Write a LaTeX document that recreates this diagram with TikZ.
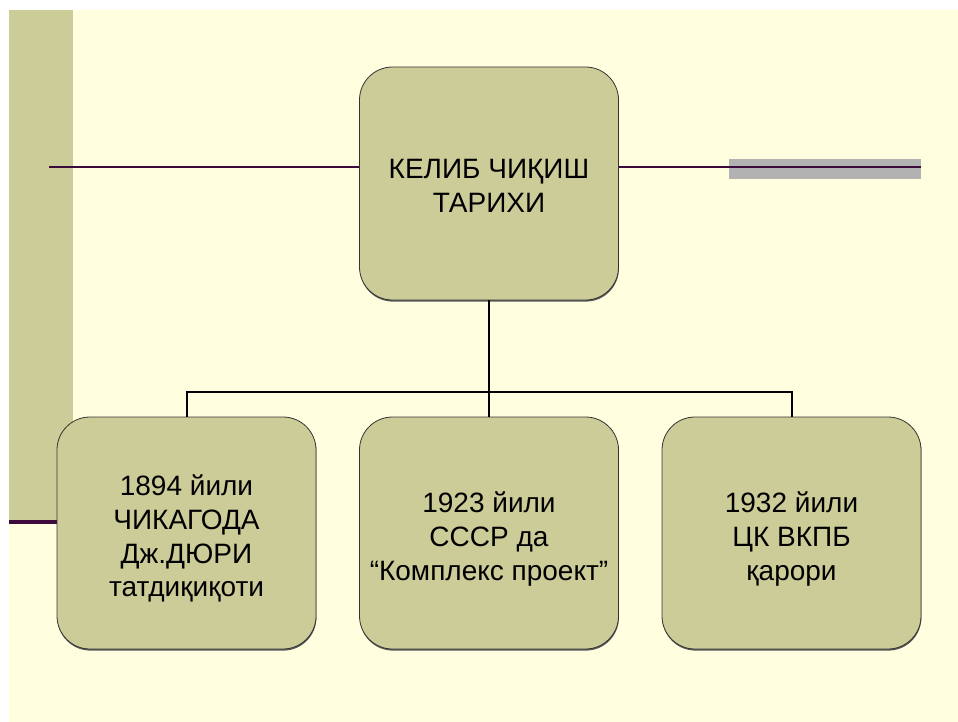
\documentclass[tikz,border=0pt]{standalone}
\usepackage{fontspec}
\setmainfont{Liberation Sans}
\usetikzlibrary{shadows}
\definecolor{cream}{HTML}{FFFFE0}
\definecolor{olive}{HTML}{CCCC99}
\definecolor{plum}{HTML}{3D0A3D}
\definecolor{bargray}{HTML}{B2B2B2}
\begin{document}
\begin{tikzpicture}[x=1pt,y=-1pt,
  box/.style={draw=black!80, line width=0.8pt, fill=olive, rounded corners=33pt,
    inner sep=0pt, minimum width=259pt, minimum height=232pt,
    drop shadow={shadow xshift=0.4pt, shadow yshift=-1.6pt, fill=black!65, opacity=1}},
  boxtext/.style={inner sep=0pt, align=center, font=\fontsize{28}{33.8}\selectfont},
  conn/.style={draw=black, line width=2pt},
  plumline/.style={draw=plum, line width=2pt}]
\useasboundingbox (0,0) rectangle (958,722);
\fill[white] (0,0) rectangle (958,722);
\fill[cream] (9,10) rectangle (958,722);
% left bar and decorations
\fill[olive] (9,10) rectangle (73,520);
\fill[bargray] (729,159) rectangle (921,179);
\coordinate (lineL) at (49,167);
\coordinate (lineR) at (921,167);
\coordinate (footL) at (9,522);
\coordinate (footR) at (80,522);
\draw[plumline] (lineL) -- (lineR);
\draw[draw=plum, line width=4pt] (footL) -- (footR);
% boxes
\node[box, minimum height=233pt] (top) at (489,183.5) {};
\node[box] (b1) at (186.5,533) {};
\node[box] (b2) at (489,533) {};
\node[box] (b3) at (791.5,533) {};
% texts
\node[boxtext] (topt) at ([yshift=-2pt]top.center) {КЕЛИБ ЧИҚИШ\\ТАРИХИ};
\node[boxtext] (b1t) at ([yshift=-5.5pt]b1.center) {1894 йили\\ЧИКАГОДА\\ Дж.ДЮРИ\\татдиқиқоти};
\node[boxtext] (b2t) at ([yshift=-6pt]b2.center) {1923 йили\\СССР да\\“Комплекс проект”};
\node[boxtext] (b3t) at ([yshift=-6pt]b3.center) {1932 йили\\ЦК ВКПБ\\қарори};
% connectors
\coordinate (j) at (489,392);
\draw[conn] (top.south) -- (j);
\draw[conn] (j) -- (b2.north);
\draw[conn] (j) -| (b1.north);
\draw[conn] (j) -| (b3.north);
\end{tikzpicture}
\end{document}
